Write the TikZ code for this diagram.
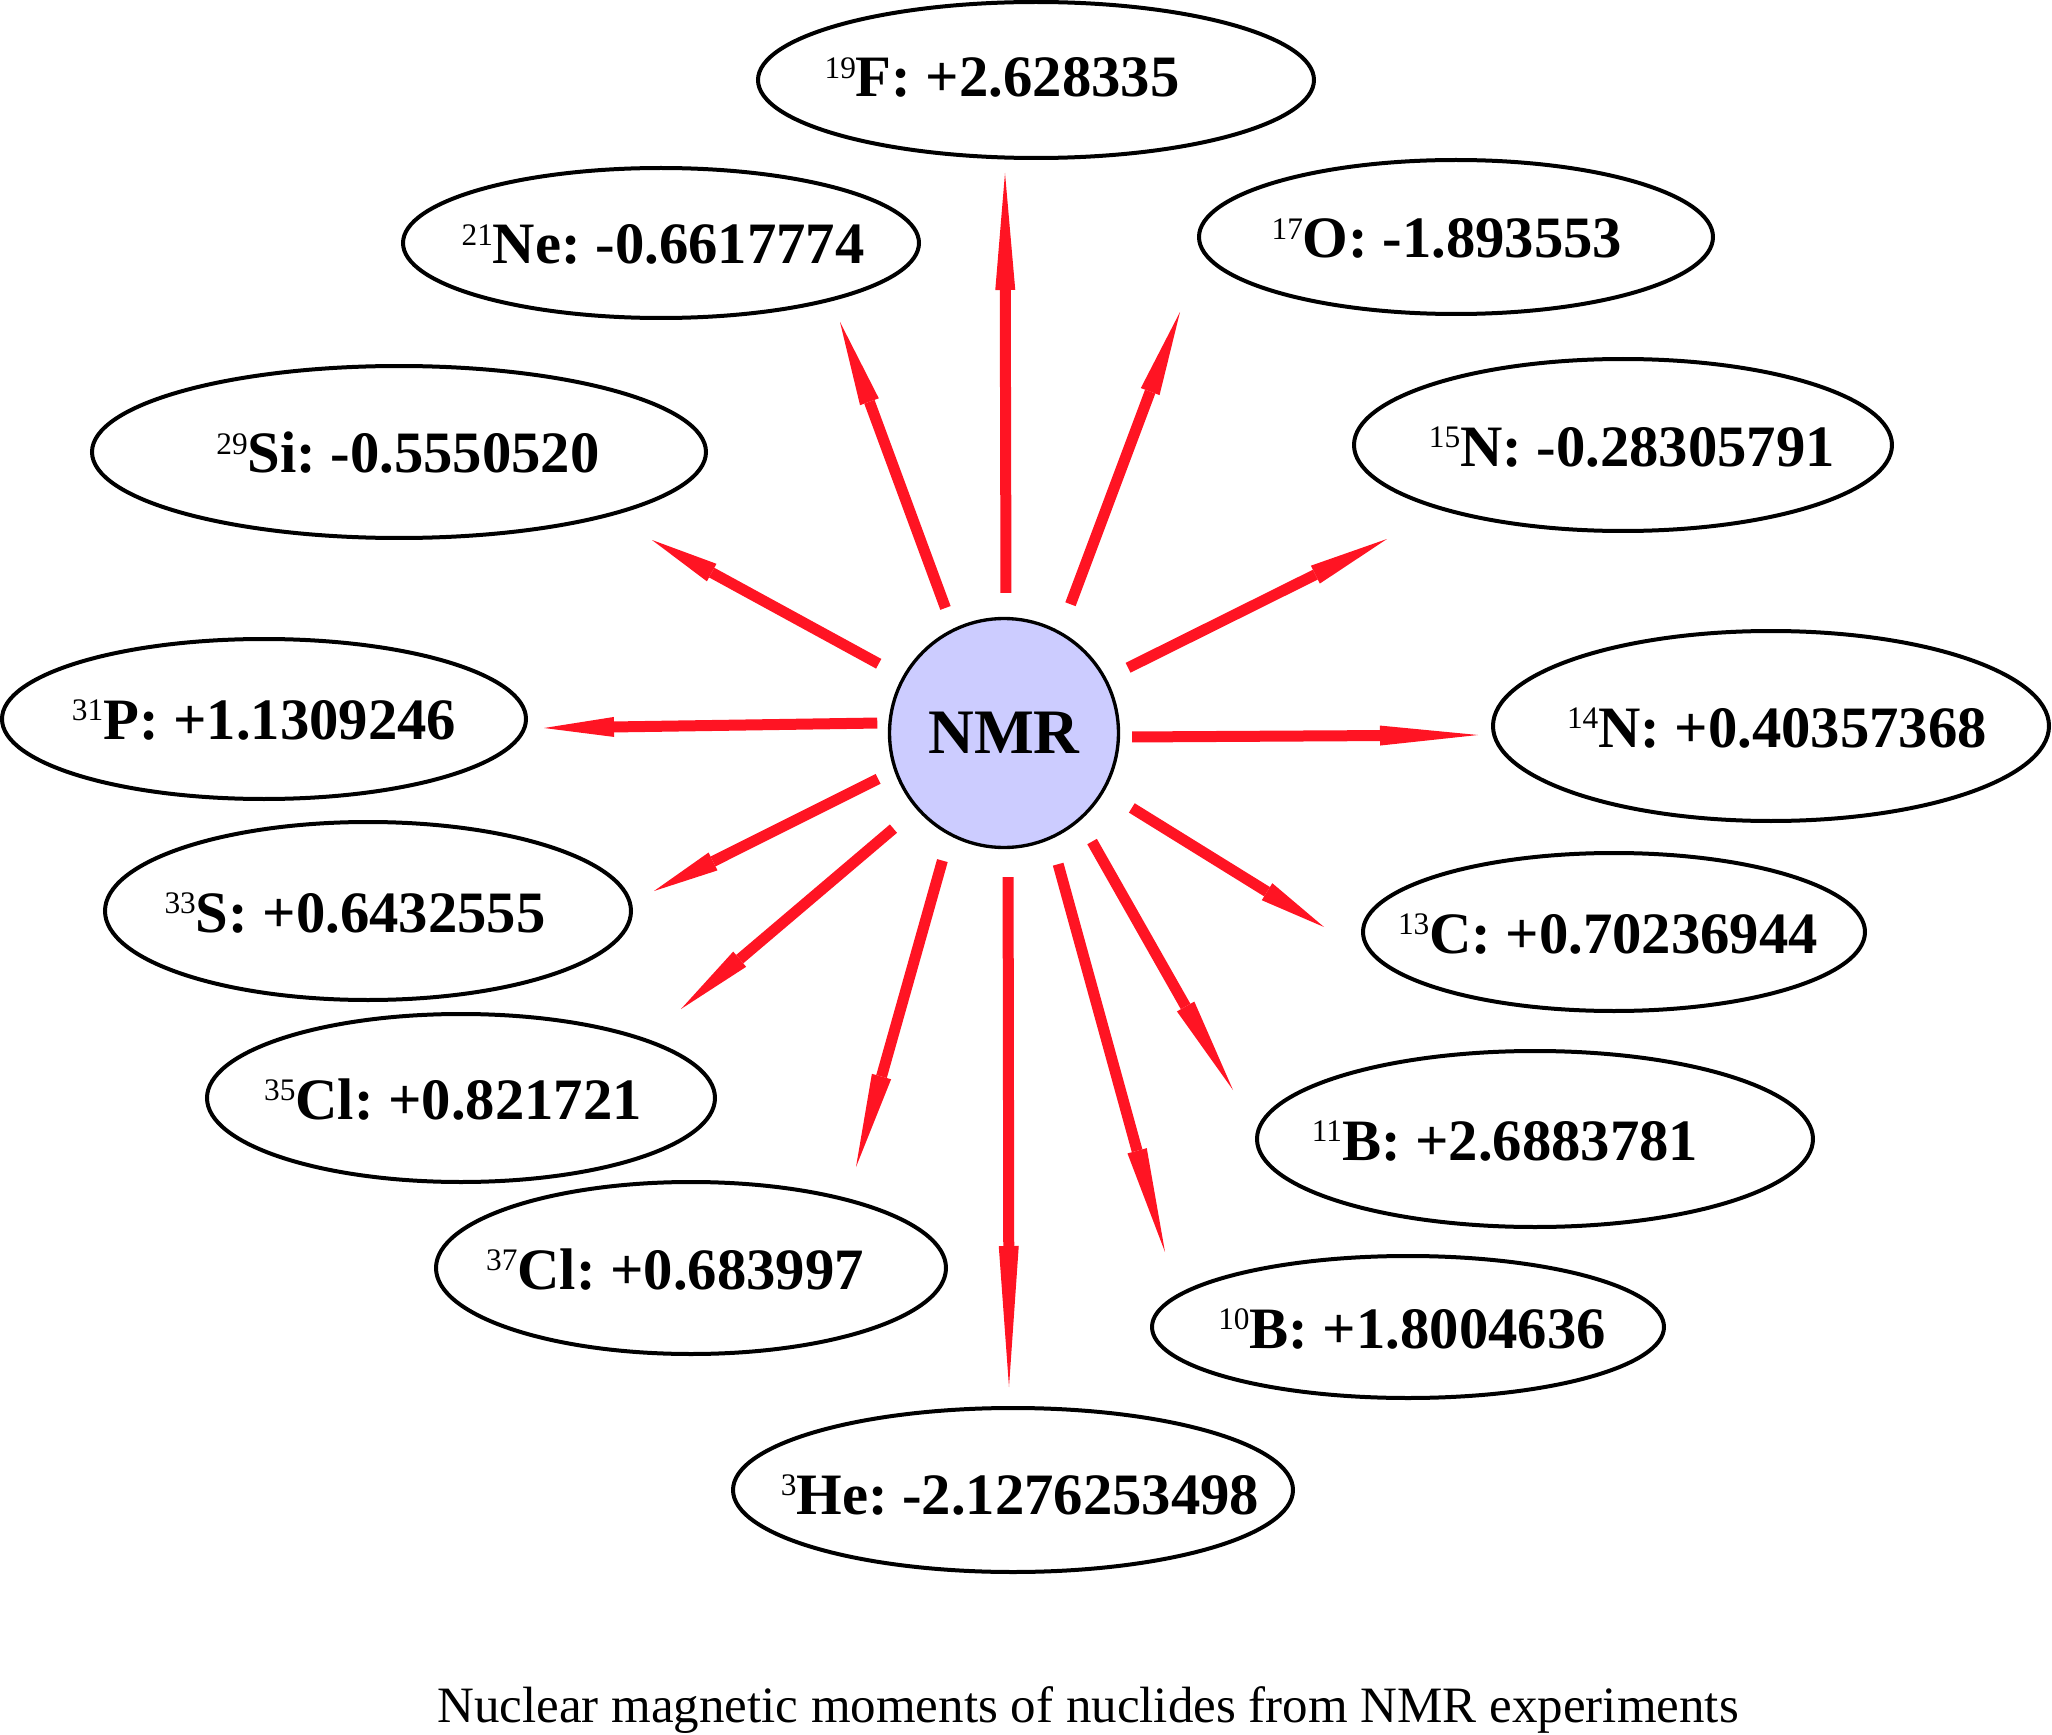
\documentclass[tikz,border=0pt]{standalone}
\usepackage{fontspec}
\setmainfont{Liberation Serif}
\usetikzlibrary{arrows.meta,shapes.geometric}
\definecolor{rayred}{RGB}{255,20,35}
\definecolor{nmrfill}{RGB}{204,204,255}
\newcommand\isot[1]{\raisebox{5.6pt}{\fontsize{9.4}{9.4}\selectfont\mdseries #1}}
\frenchspacing
\tikzset{
  iso/.style={draw, ellipse, line width=1.2pt, inner sep=0pt},
  lbl/.style={anchor=base, inner sep=0pt, font=\fontsize{17.6}{20}\selectfont\bfseries},
  ray/.style={draw=rayred, line width=3.3pt},
}
\begin{document}
\begin{tikzpicture}[x=0.3pt,y=-0.3pt]
\useasboundingbox (0,0) rectangle (2052,1735);

% central node
\node[circle, draw, line width=1pt, fill=nmrfill, minimum size=68.7pt, inner sep=0pt,
      font=\fontsize{19}{22}\selectfont\bfseries] (nmr) at (1004,733) {NMR};

% ellipses
\node[iso, minimum width=166.8pt, minimum height=46.8pt] (eF19)  at (1036,80) {};
\node[iso, minimum width=154.2pt, minimum height=46.2pt] (eO17)  at (1456,237) {};
\node[iso, minimum width=154.8pt, minimum height=45pt]   (eNe21) at (661,243) {};
\node[iso, minimum width=184.2pt, minimum height=51.6pt] (eSi29) at (399,452) {};
\node[iso, minimum width=161.4pt, minimum height=51.6pt] (eN15)  at (1623,445) {};
\node[iso, minimum width=157.2pt, minimum height=48pt]   (eP31)  at (264,719) {};
\node[iso, minimum width=166.8pt, minimum height=57pt]   (eN14)  at (1771,726) {};
\node[iso, minimum width=157.8pt, minimum height=53.4pt] (eS33)  at (368,911) {};
\node[iso, minimum width=150.6pt, minimum height=47.4pt] (eC13)  at (1614,932) {};
\node[iso, minimum width=152.4pt, minimum height=50.4pt] (eCl35) at (461,1098) {};
\node[iso, minimum width=166.8pt, minimum height=52.8pt] (eB11)  at (1535,1139) {};
\node[iso, minimum width=153pt,   minimum height=51.6pt] (eCl37) at (691,1268) {};
\node[iso, minimum width=153.6pt, minimum height=42.6pt] (eB10)  at (1408,1327) {};
\node[iso, minimum width=168pt,   minimum height=49.2pt] (eHe3)  at (1013,1490) {};

% labels
\node[lbl] (tF19)  at (1002,97)   {\isot{19}F: +2.628335};
\node[lbl] (tO17)  at (1447,258)  {\isot{17}O: -1.893553};
\node[lbl] (tNe21) at (663,264)   {\isot{21}Ne: -0.6617774};
\node[lbl] (tSi29) at (408,473)   {\isot{29}Si: -0.5550520};
\node[lbl] (tN15)  at (1632,466)  {\isot{15}N: -0.28305791};
\node[lbl] (tP31)  at (264,739)   {\isot{31}P: +1.1309246};
\node[lbl] (tN14)  at (1777,747)  {\isot{14}N: +0.40357368};
\node[lbl] (tS33)  at (355,932)   {\isot{33}S: +0.6432555};
\node[lbl] (tC13)  at (1608,953)  {\isot{13}C: +0.70236944};
\node[lbl] (tCl35) at (453,1119)  {\isot{35}Cl: +0.821721};
\node[lbl] (tB11)  at (1505,1160) {\isot{11}B: +2.6883781};
\node[lbl] (tCl37) at (675,1289)  {\isot{37}Cl: +0.683997};
\node[lbl] (tB10)  at (1412,1348) {\isot{10}B: +1.8004636};
\node[lbl] (tHe3)  at (1020,1514) {\isot{3}He: -2.1276253498};

% arrow tips
\coordinate (pF19)  at (1005,173);
\coordinate (pO17)  at (1180,312);
\coordinate (pNe21) at (840,322);
\coordinate (pN15)  at (1387,539);
\coordinate (pSi29) at (652,540);
\coordinate (pP31)  at (544,728);
\coordinate (pN14)  at (1478,735);
\coordinate (pS33)  at (654,891);
\coordinate (pC13)  at (1324,927);
\coordinate (pCl35) at (681,1009);
\coordinate (pB11)  at (1233,1090);
\coordinate (pCl37) at (856,1167);
\coordinate (pB10)  at (1165,1252);
\coordinate (pHe3)  at (1009,1387);

% arrows
\draw[ray, -{Triangle[length=35.1pt,width=6pt,line width=0pt]}, shorten <=7.2pt] (nmr.89.6) -- (pF19);
\draw[ray, -{Triangle[length=25.5pt,width=6pt,line width=0pt]}, shorten <=8.7pt] (nmr.61.7) -- (pO17);
\draw[ray, -{Triangle[length=25.5pt,width=6pt,line width=0pt]}, shorten <=6.6pt] (nmr.116.8) -- (pNe21);
\draw[ray, -{Triangle[length=24pt,width=6pt,line width=0pt]},   shorten <=7.2pt] (nmr.28) -- (pN15);
\draw[ray, -{Triangle[length=20.4pt,width=6pt,line width=0pt]}, shorten <=8.1pt] (nmr.151.6) -- (pSi29);
\draw[ray, -{Triangle[length=21pt,width=6pt,line width=0pt]},   shorten <=3.3pt] (nmr.175.9) -- (pP31);
\draw[ray, -{Triangle[length=29.4pt,width=6pt,line width=0pt]}, shorten <=3.6pt] (nmr.-2.2) -- (pN14);
\draw[ray, -{Triangle[length=19.8pt,width=6pt,line width=0pt]}, shorten <=5.4pt] (nmr.-161.7) -- (pS33);
\draw[ray, -{Triangle[length=20.1pt,width=6pt,line width=0pt]}, shorten <=9.6pt] (nmr.-30.9) -- (pC13);
\draw[ray, -{Triangle[length=23.1pt,width=6pt,line width=0pt]}, shorten <=9pt]   (nmr.-139.4) -- (pCl35);
\draw[ray, -{Triangle[length=28.8pt,width=6pt,line width=0pt]}, shorten <=7.2pt] (nmr.-49.9) -- (pB11);
\draw[ray, -{Triangle[length=28.2pt,width=6pt,line width=0pt]}, shorten <=7.8pt] (nmr.-118.2) -- (pCl37);
\draw[ray, -{Triangle[length=31.5pt,width=6pt,line width=0pt]}, shorten <=7.8pt] (nmr.-66.9) -- (pB10);
\draw[ray, -{Triangle[length=42.3pt,width=6pt,line width=0pt]}, shorten <=8.4pt] (nmr.-88) -- (pHe3);

% caption
\node[anchor=base, inner sep=0pt, font=\fontsize{15.3}{18}\selectfont] (cap) at (1088,1722)
  {Nuclear magnetic moments of nuclides from NMR experiments};
\end{tikzpicture}
\end{document}
